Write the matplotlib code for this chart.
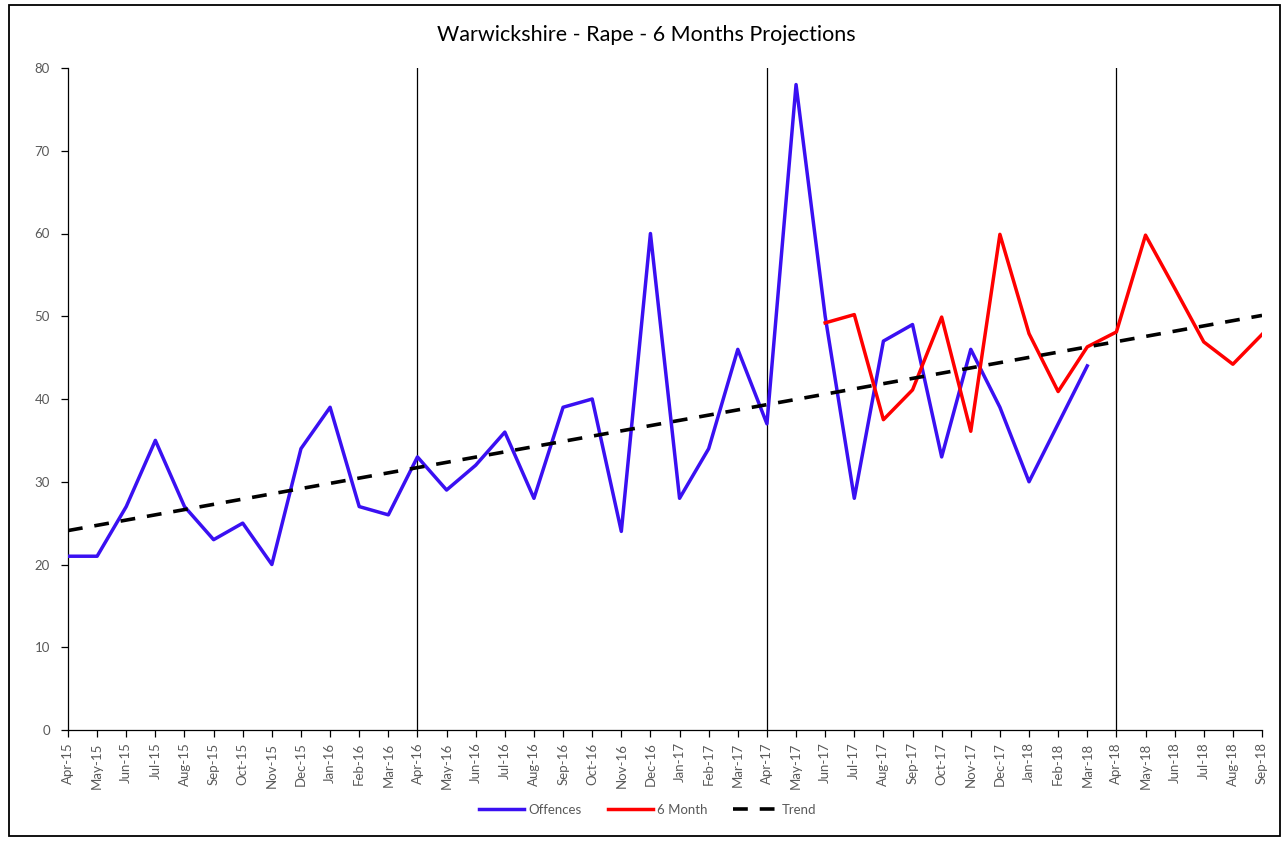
import numpy as np
import matplotlib.pyplot as plt
from matplotlib.patches import Rectangle

plt.rcParams["font.family"] = ["Lato", "DejaVu Sans"]

# =============================================================================
# data
# =============================================================================

months = [
    "Apr-15", "May-15", "Jun-15", "Jul-15", "Aug-15", "Sep-15", "Oct-15", "Nov-15",
    "Dec-15", "Jan-16", "Feb-16", "Mar-16", "Apr-16", "May-16", "Jun-16", "Jul-16",
    "Aug-16", "Sep-16", "Oct-16", "Nov-16", "Dec-16", "Jan-17", "Feb-17", "Mar-17",
    "Apr-17", "May-17", "Jun-17", "Jul-17", "Aug-17", "Sep-17", "Oct-17", "Nov-17",
    "Dec-17", "Jan-18", "Feb-18", "Mar-18", "Apr-18", "May-18", "Jun-18", "Jul-18",
    "Aug-18", "Sep-18",
]

offences = [
    21, 21, 27, 35, 27, 23, 25, 20, 34, 39, 27, 26,
    33, 29, 32, 36, 28, 39, 40, 24, 60, 28, 34, 46,
    37, 78, 50, 28, 47, 49, 33, 46, 39, 30, 37, 44,
]

# 6 month projection runs Jun-17 .. Sep-18
proj_start = "Jun-17"
projection = [
    49.2, 50.2, 37.5, 41.1, 49.9, 36.1, 59.9, 47.9,
    40.9, 46.3, 48.1, 59.8, 53.4, 46.9, 44.2, 47.8,
]

# trend end points (Apr-15, Sep-18)
trend_ends = [24.1, 50.1]

year_marks = ["Apr-16", "Apr-17", "Apr-18"]

# =============================================================================
# plot
# =============================================================================

blue = "#3A10F2"
red = "#FF0000"
grey = "#595959"

fig = plt.figure(figsize=(12.83, 8.43), dpi=100)
ax = fig.add_axes([68 / 1283, 1 - 730 / 843, (1262 - 68) / 1283, (730 - 68) / 843])

x_all = np.arange(len(months))
x_off = x_all[: len(offences)]
p0 = months.index(proj_start)
x_proj = x_all[p0 : p0 + len(projection)]

for m in year_marks:
    ax.axvline(months.index(m), color="black", lw=0.9, zorder=1)

ax.plot(x_off, offences, color=blue, lw=2.5, label="Offences", zorder=3)
ax.plot(x_proj, projection, color=red, lw=2.5, label="6 Month", zorder=4)
ax.plot(
    [x_all[0], x_all[-1]],
    trend_ends,
    color="black",
    lw=2.6,
    linestyle=(0, (4.1, 3.3)),
    label="Trend",
    zorder=5,
)

ax.set_xlim(0, len(months) - 1)
ax.set_ylim(0, 80)
ax.set_yticks(np.arange(0, 81, 10))
ax.set_xticks(x_all)
ax.set_xticklabels(months, rotation=90, fontsize=9.5, color=grey)
ax.tick_params(axis="y", labelsize=9.5, labelcolor=grey, length=5, width=0.9, pad=8)
ax.tick_params(axis="x", length=5, width=0.9, pad=4)

for s in ["top", "right"]:
    ax.spines[s].set_visible(False)
for s in ["left", "bottom"]:
    ax.spines[s].set_linewidth(0.9)

fig.text(646 / 1283, 1 - 35 / 843, "Warwickshire - Rape - 6 Months Projections",
         ha="center", va="center", fontsize=15.5, color="black")

leg = ax.legend(
    loc="center",
    bbox_to_anchor=(648 / 1283, 1 - 810 / 843),
    bbox_transform=fig.transFigure,
    ncols=3,
    frameon=False,
    fontsize=9.5,
    handlelength=3.4,
    handletextpad=0.3,
    columnspacing=2.0,
)
for t in leg.get_texts():
    t.set_color(grey)

# outer chart border
fig.patches.append(
    Rectangle((9 / 1283, 1 - 836 / 843), (1280 - 9) / 1283, (836 - 5) / 843,
              transform=fig.transFigure, fill=False, edgecolor="black", lw=1.3)
)

fig.savefig("out.png", dpi=100)
